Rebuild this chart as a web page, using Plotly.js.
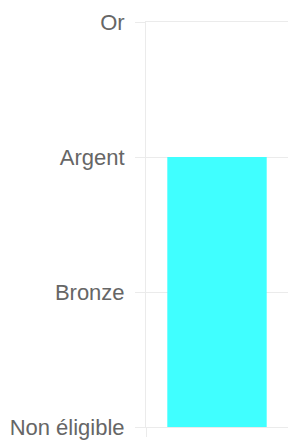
<!DOCTYPE html>
<html>
<head>
<meta charset="utf-8">
<script src="https://cdn.plot.ly/plotly-3.0.1.min.js"></script>
<style>html,body{margin:0;padding:0;background:#fff;}#chart{width:288px;height:441px;}</style>
</head>
<body>
<div id="chart"></div>
<script>
var categories = [''];
var values = [2];
var levelValues = [0, 1, 2, 3];
var levelLabels = ['Non éligible', 'Bronze', 'Argent', 'Or'];

var grid = '#ebebeb';
var data = [{
  type: 'bar',
  x: categories,
  y: values,
  marker: {color: '#40ffff', line: {width: 0}},
  hoverinfo: 'none'
}];
var layout = {
  width: 288, height: 441,
  margin: {l: 146, r: 0, t: 22, b: 14, pad: 0},
  paper_bgcolor: '#fff', plot_bgcolor: '#fff',
  bargap: 0.3,
  showlegend: false,
  font: {family: 'Liberation Sans, Arial, sans-serif', size: 22, color: '#666'},
  xaxis: {
    type: 'category',
    range: [-0.5, 0.5],
    tickson: 'boundaries',
    ticks: 'outside', ticklen: 9, tickcolor: grid, tickwidth: 1,
    showgrid: true, gridcolor: grid, gridwidth: 1,
    showticklabels: false, zeroline: false,
    showline: true, linecolor: grid, linewidth: 1, mirror: true,
    fixedrange: true
  },
  yaxis: {
    range: [0, 3],
    tickmode: 'array', tickvals: levelValues, ticktext: levelLabels,
    ticks: 'outside', ticklen: 10, tickcolor: grid, tickwidth: 1,
    ticklabelstandoff: 6,
    showgrid: true, gridcolor: grid, gridwidth: 1,
    zeroline: false,
    showline: true, linecolor: grid, linewidth: 1, mirror: false,
    tickfont: {family: 'Liberation Sans, Arial, sans-serif', size: 22, color: '#666'},
    fixedrange: true
  }
};
Plotly.newPlot('chart', data, layout, {displayModeBar: false, staticPlot: true});
</script>
</body>
</html>
